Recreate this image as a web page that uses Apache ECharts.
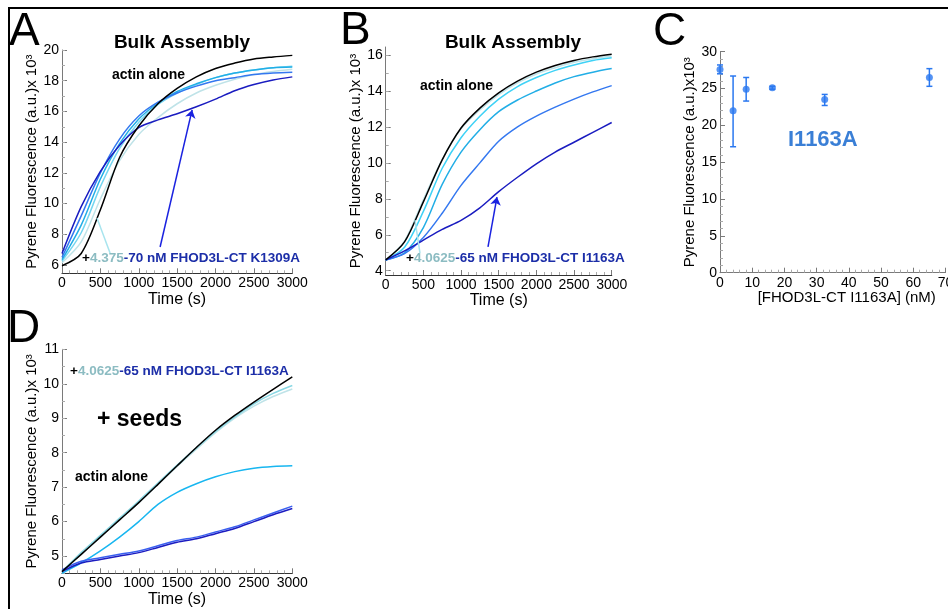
<!DOCTYPE html>
<html>
<head>
<meta charset="utf-8">
<script src="https://cdn.jsdelivr.net/npm/echarts@6/dist/echarts.min.js"></script>
<style>
  html, body { margin: 0; padding: 0; background: #fff; }
  #main { width: 948px; height: 609px; }
</style>
</head>
<body>
<div id="main"></div>
<script>
// time points (s), shared by panels A, B, D
var times = [0, 250, 500, 750, 1000, 1250, 1500, 1750, 2000, 2250, 2500, 2750, 3000];

// A: K1309A, 4.375 - 70 nM (x 10^3)
var aActin = [5.95, 6.75, 9.6, 13.0, 15.05, 16.5, 17.5, 18.25, 18.8, 19.15, 19.42, 19.55, 19.65];
var aC1 = [6.15, 7.5, 10.3, 12.8, 14.5, 15.6, 16.5, 17.2, 17.7, 18.1, 18.4, 18.6, 18.75];
var aC2 = [6.25, 8.1, 11.1, 13.6, 15.3, 16.45, 17.2, 17.75, 18.2, 18.5, 18.7, 18.85, 18.95];
var aC3 = [6.35, 8.6, 11.6, 13.9, 15.5, 16.55, 17.3, 17.8, 18.2, 18.5, 18.7, 18.85, 18.9];
var aC4 = [6.5, 9.2, 12.0, 14.2, 15.7, 16.6, 17.2, 17.65, 18.0, 18.2, 18.4, 18.5, 18.55];
var aC5 = [6.75, 9.8, 12.1, 13.8, 14.95, 15.45, 15.85, 16.3, 16.8, 17.35, 17.75, 18.05, 18.25];

// B: I1163A, 4.0625 - 65 nM
var bActin = [4.6, 5.6, 7.83, 10.17, 11.94, 13.05, 13.9, 14.55, 15.05, 15.42, 15.7, 15.9, 16.05];
var bC1 = [4.6, 5.65, 7.95, 10.2, 11.9, 12.95, 13.8, 14.45, 14.95, 15.3, 15.6, 15.8, 15.95];
var bC2 = [4.6, 5.3, 7.3, 9.7, 11.4, 12.6, 13.55, 14.25, 14.75, 15.15, 15.45, 15.7, 15.85];
var bC3 = [4.6, 5.0, 6.4, 8.8, 10.6, 11.85, 12.85, 13.5, 14.0, 14.45, 14.8, 15.05, 15.25];
var bC4 = [4.6, 4.95, 5.85, 7.2, 8.75, 10.0, 11.2, 12.0, 12.6, 13.1, 13.55, 13.95, 14.3];
var bC5 = [4.6, 5.1, 5.7, 6.3, 6.8, 7.5, 8.4, 9.2, 9.95, 10.6, 11.15, 11.7, 12.25];

// C: end point fluorescence vs [FHOD3L-CT I1163A]
var cConc = [0, 4.0625, 8.125, 16.25, 32.5, 65];
var cMean = [27.6, 22.0, 24.9, 25.1, 23.5, 26.5];
var cLow = [27.0, 17.1, 23.3, 24.9, 22.7, 25.3];
var cHigh = [28.2, 26.7, 26.5, 25.3, 24.2, 27.7];

// D: + seeds, I1163A 4.0625 - 65 nM
var dActin = [4.55, 5.05, 5.55, 6.05, 6.55, 7.08, 7.62, 8.15, 8.65, 9.08, 9.47, 9.84, 10.2];
var dC1 = [4.55, 5.05, 5.55, 6.05, 6.55, 7.08, 7.6, 8.1, 8.58, 9.0, 9.35, 9.63, 9.85];
var dC2 = [4.55, 5.1, 5.6, 6.1, 6.6, 7.12, 7.64, 8.14, 8.62, 9.04, 9.42, 9.72, 9.95];
var dC3 = [4.5, 4.8, 5.15, 5.55, 6.0, 6.5, 6.85, 7.1, 7.3, 7.45, 7.55, 7.6, 7.62];
var dC4 = [4.6, 4.85, 4.95, 5.05, 5.15, 5.3, 5.45, 5.55, 5.7, 5.85, 6.05, 6.25, 6.45];
var dC5 = [4.55, 4.8, 4.9, 5.0, 5.1, 5.25, 5.4, 5.5, 5.65, 5.8, 6.0, 6.2, 6.38];

// tick labels
var aTicks = [6, 8, 10, 12, 14, 16, 18, 20];
var bTicks = [4, 6, 8, 10, 12, 14, 16];
var dTicks = [5, 6, 7, 8, 9, 10, 11];

var FONT = '"Liberation Sans", Arial, sans-serif';
var shades = ['#bfe3e8', '#74d6f0', '#22aee6', '#3478f0', '#1a1cc0'];
var axisGrey = '#7a7a7a';

function steps(min, max, step) {
  var out = [];
  for (var v = Math.ceil(min / step) * step; v <= max + 1e-9; v += step) out.push(+v.toFixed(3));
  return out;
}

function plain(v) { return String(v); }

function timeAxis(g) {
  return {
    type: 'value', gridIndex: g, min: 0, max: 3000, interval: 500,
    name: 'Time (s)', nameLocation: 'middle', nameGap: 15,
    nameTextStyle: { fontFamily: FONT, fontSize: 16, color: '#000' },
    axisLine: { lineStyle: { color: '#333', width: 1.2 } },
    axisTick: { inside: true, length: 5, lineStyle: { color: axisGrey } },
    minorTick: { show: true, splitNumber: 5, length: 3, lineStyle: { color: '#aaa' } },
    axisLabel: { color: '#000', fontFamily: FONT, fontSize: 14, margin: 3, formatter: plain },
    splitLine: { show: false }
  };
}

function fluoAxes(g, min, max, ticks, minorStep, name, gap) {
  return [{
    type: 'value', gridIndex: g, min: min, max: max,
    name: name, nameLocation: 'middle', nameGap: gap,
    nameTextStyle: { fontFamily: FONT, fontSize: 15, color: '#000' },
    axisLine: { show: true, lineStyle: { color: axisGrey } },
    axisTick: { inside: true, length: 5, customValues: ticks, lineStyle: { color: axisGrey } },
    axisLabel: { customValues: ticks, color: '#000', fontFamily: FONT, fontSize: 14, margin: 3, formatter: plain },
    splitLine: { show: false }
  }, {
    type: 'value', gridIndex: g, min: min, max: max, position: 'left',
    axisLine: { show: false },
    axisTick: { inside: true, length: 3, customValues: steps(min, max, minorStep), lineStyle: { color: '#aaa' } },
    axisLabel: { show: false },
    splitLine: { show: false }
  }];
}

function pairs(vals) {
  return times.map(function (t, i) { return [t, vals[i]]; });
}

function curve(xi, yi, vals, color, extra) {
  var s = {
    type: 'line', xAxisIndex: xi, yAxisIndex: yi, data: pairs(vals),
    smooth: 0.3, showSymbol: false, silent: true,
    lineStyle: { color: color, width: 1.5 }, itemStyle: { color: color }
  };
  if (extra) s.markLine = extra;
  return s;
}

function arrow(from, to, color, head) {
  return {
    silent: true, symbol: ['none', head ? 'arrow' : 'none'], symbolSize: 8,
    lineStyle: { color: color, width: 1.5, type: 'solid' }, label: { show: false },
    data: [[{ coord: from }, { coord: to }]]
  };
}

var yName = 'Pyrene Fluorescence (a.u.)x 10\u00b3';

var series = [];
// A
series.push(curve(0, 0, aC1, shades[0], arrow([626, 6.78], [456, 9.06], '#a8e4ee', false)));
series.push(curve(0, 0, aC2, shades[1]));
series.push(curve(0, 0, aC3, shades[2]));
series.push(curve(0, 0, aC4, shades[3]));
series.push(curve(0, 0, aC5, shades[4], arrow([1278, 7.17], [1695, 16.1], '#1a22e0', true)));
series.push(curve(0, 0, aActin, '#000'));
// B
series.push(curve(1, 2, bC1, shades[0], arrow([455, 4.98], [389, 6.82], '#a8e4ee', false)));
series.push(curve(1, 2, bC2, '#3fd2f6'));
series.push(curve(1, 2, bC3, shades[2]));
series.push(curve(1, 2, bC4, shades[3]));
series.push(curve(1, 2, bC5, shades[4], arrow([1358, 5.32], [1477, 8.1], '#1a22e0', true)));
series.push(curve(1, 2, bActin, '#000'));
// D
series.push(curve(3, 5, dC1, shades[0]));
series.push(curve(3, 5, dC2, '#8ad8e4'));
series.push(curve(3, 5, dC3, '#18b6f0'));
series.push(curve(3, 5, dC4, '#3a60f0'));
series.push(curve(3, 5, dC5, '#1c1cc0'));
series.push(curve(3, 5, dActin, '#000'));
// C error bars and points
series.push({
  type: 'custom', xAxisIndex: 2, yAxisIndex: 4, silent: true,
  data: cConc.map(function (c, i) { return [c, cLow[i], cHigh[i]]; }),
  renderItem: function (params, api) {
    var lo = api.coord([api.value(0), api.value(1)]);
    var hi = api.coord([api.value(0), api.value(2)]);
    var st = { stroke: '#2a78f0', lineWidth: 1.5 };
    return {
      type: 'group', children: [
        { type: 'line', shape: { x1: lo[0], y1: lo[1], x2: hi[0], y2: hi[1] }, style: st },
        { type: 'line', shape: { x1: lo[0] - 3, y1: lo[1], x2: lo[0] + 3, y2: lo[1] }, style: st },
        { type: 'line', shape: { x1: hi[0] - 3, y1: hi[1], x2: hi[0] + 3, y2: hi[1] }, style: st }
      ]
    };
  }
});
series.push({
  type: 'scatter', xAxisIndex: 2, yAxisIndex: 4, silent: true, symbolSize: 7,
  itemStyle: { color: '#2a78f0' },
  data: cConc.map(function (c, i) { return [c, cMean[i]]; })
});

function txt(x, y, text, size, color, weight, align) {
  return {
    type: 'text', x: x, y: y, silent: true,
    style: {
      text: text, fill: color || '#000', align: align || 'left', verticalAlign: 'middle',
      font: (weight || 'normal') + ' ' + size + 'px ' + FONT
    }
  };
}

function concLabel(x, y, low, rest) {
  var f = { fontFamily: FONT, fontWeight: 'bold', fontSize: 13.5 };
  return {
    type: 'text', x: x, y: y, silent: true,
    style: {
      text: '{k|+}{g|' + low + '}{b|' + rest + '}', verticalAlign: 'middle',
      rich: {
        k: Object.assign({ fill: '#000' }, f),
        g: Object.assign({ fill: '#8cbcc2' }, f),
        b: Object.assign({ fill: '#1c2ea8' }, f)
      }
    }
  };
}

var chart = echarts.init(document.getElementById('main'));
chart.setOption({
  animation: false,
  backgroundColor: '#fff',
  grid: [
    { left: 62, top: 50, width: 230.3, height: 223.3, outerBoundsMode: 'none' },
    { left: 385.7, top: 47, width: 226, height: 228, outerBoundsMode: 'none' },
    { left: 720, top: 51.7, width: 225.5, height: 221, outerBoundsMode: 'none' },
    { left: 62, top: 349.3, width: 230.3, height: 224, outerBoundsMode: 'none' }
  ],
  xAxis: [
    timeAxis(0),
    timeAxis(1),
    {
      type: 'value', gridIndex: 2, min: 0, max: 70, interval: 10,
      name: '[FHOD3L-CT I1163A] (nM)', nameLocation: 'middle', nameGap: 18,
      nameTextStyle: { fontFamily: FONT, fontSize: 15, color: '#000', padding: [0, 0, 0, 28] },
      axisLine: { lineStyle: { color: axisGrey } },
      axisTick: { inside: true, length: 5, lineStyle: { color: axisGrey } },
      minorTick: { show: true, splitNumber: 5, length: 3, lineStyle: { color: '#aaa' } },
      axisLabel: { color: '#000', fontFamily: FONT, fontSize: 14, margin: 3 },
      splitLine: { show: false }
    },
    timeAxis(3)
  ],
  yAxis: [].concat(
    fluoAxes(0, 5.46, 20, aTicks, 1, yName, 15.5),
    fluoAxes(1, 3.76, 16.45, bTicks, 1, yName, 19),
    [{
      type: 'value', gridIndex: 2, min: 0, max: 30, interval: 5,
      name: 'Pyrene Fluorescence (a.u.)x10\u00b3', nameLocation: 'middle', nameGap: 17,
      nameTextStyle: { fontFamily: FONT, fontSize: 15, color: '#000' },
      axisLine: { show: true, lineStyle: { color: axisGrey } },
      axisTick: { inside: true, length: 5, lineStyle: { color: axisGrey } },
      minorTick: { show: true, splitNumber: 5, length: 3, lineStyle: { color: '#aaa' } },
      axisLabel: { color: '#000', fontFamily: FONT, fontSize: 14, margin: 3 },
      splitLine: { show: false }
    }],
    fluoAxes(3, 4.5, 11, dTicks, 0.5, yName, 13.5)
  ),
  series: series,
  graphic: [
    { type: 'line', silent: true, shape: { x1: 8, y1: 8, x2: 948, y2: 8 }, style: { stroke: '#000', lineWidth: 2 } },
    { type: 'line', silent: true, shape: { x1: 9, y1: 7, x2: 9, y2: 609 }, style: { stroke: '#000', lineWidth: 2 } },
    txt(9, 32, 'A', 46),
    txt(340, 31, 'B', 46),
    txt(653, 32, 'C', 46),
    txt(7, 329, 'D', 46),
    txt(182, 43, 'Bulk Assembly', 19, '#000', 'bold', 'center'),
    txt(513, 43, 'Bulk Assembly', 19, '#000', 'bold', 'center'),
    txt(112, 75, 'actin alone', 14, '#000', 'bold'),
    txt(420, 86, 'actin alone', 14, '#000', 'bold'),
    txt(75, 477, 'actin alone', 14, '#000', 'bold'),
    txt(97, 420, '+ seeds', 23, '#000', 'bold'),
    txt(788, 140, 'I1163A', 22, '#3a7fd6', 'bold'),
    concLabel(82, 258, '4.375', '-70 nM FHOD3L-CT K1309A'),
    concLabel(406, 258, '4.0625', '-65 nM FHOD3L-CT I1163A'),
    concLabel(70, 371, '4.0625', '-65 nM FHOD3L-CT I1163A')
  ]
});
</script>
</body>
</html>
